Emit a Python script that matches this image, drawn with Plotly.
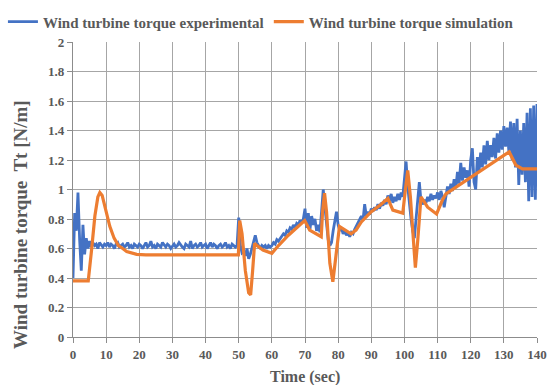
import plotly.graph_objects as go

# Experimental torque sampled every 0.5 s (rows of 10 samples = 5 s each)
exp_torque = [
    0.40, 0.84, 0.72, 0.98, 0.66, 0.45, 0.76, 0.56, 0.67, 0.60,
    0.65, 0.61, 0.64, 0.62, 0.63, 0.60, 0.64, 0.62, 0.61, 0.63,
    0.62, 0.64, 0.61, 0.63, 0.62, 0.60, 0.63, 0.64, 0.61, 0.62,
    0.63, 0.61, 0.62, 0.64, 0.61, 0.62, 0.60, 0.63, 0.62, 0.61,
    0.63, 0.62, 0.60, 0.62, 0.64, 0.61, 0.62, 0.65, 0.61, 0.62,
    0.60, 0.63, 0.62, 0.61, 0.64, 0.62, 0.61, 0.63, 0.62, 0.60,
    0.62, 0.63, 0.61, 0.62, 0.64, 0.62, 0.61, 0.60, 0.63, 0.62,
    0.61, 0.65, 0.60, 0.62, 0.63, 0.61, 0.62, 0.64, 0.61, 0.62,
    0.63, 0.60, 0.62, 0.64, 0.61, 0.63, 0.62, 0.60, 0.62, 0.63,
    0.61, 0.62, 0.64, 0.61, 0.62, 0.60, 0.63, 0.62, 0.61, 0.62,
    0.81, 0.62, 0.57, 0.58, 0.55, 0.60, 0.53, 0.56, 0.60, 0.64,
    0.69, 0.64, 0.62, 0.60, 0.62, 0.61, 0.62, 0.60, 0.62, 0.61,
    0.62, 0.64, 0.63, 0.66, 0.65, 0.67, 0.68, 0.70, 0.69, 0.72,
    0.71, 0.74, 0.73, 0.76, 0.74, 0.77, 0.76, 0.79, 0.77, 0.80,
    0.87, 0.74, 0.84, 0.73, 0.82, 0.76, 0.80, 0.72, 0.76, 0.71,
    0.85, 1.00, 0.88, 0.75, 0.66, 0.62, 0.64, 0.72, 0.80, 0.85,
    0.76, 0.72, 0.74, 0.70, 0.72, 0.69, 0.71, 0.68, 0.71, 0.70,
    0.73, 0.75, 0.78, 0.80, 0.82, 0.79, 0.90, 0.82, 0.85, 0.83,
    0.87, 0.85, 0.88, 0.86, 0.90, 0.87, 0.91, 0.89, 0.93, 0.90,
    0.96, 0.92, 0.97, 0.91, 0.95, 0.92, 0.97, 0.93, 0.98, 0.95,
    1.05, 1.19, 1.02, 0.90, 0.80, 0.72, 0.67, 0.80, 0.95, 1.05,
    0.92, 0.90, 0.93, 0.91, 0.95, 0.92, 0.97, 0.93, 0.96, 0.94,
    0.98, 0.93, 0.99, 0.95, 0.88, 0.97, 1.02, 0.97, 1.04, 0.99,
    1.07, 1.01, 1.12, 1.04, 1.18, 1.06, 1.15, 1.08, 1.13, 1.02,
    1.20, 1.28, 1.05, 1.00, 1.22, 1.12, 1.25, 1.15, 1.30, 1.17,
    1.33, 1.20, 1.30, 1.22, 1.35, 1.21, 1.38, 1.25, 1.40, 1.27,
    1.43, 1.29, 1.42, 1.26, 1.46, 1.20, 1.45, 1.15, 1.48, 1.03,
    1.40, 1.10, 1.45, 1.05, 1.52, 0.92, 1.55, 0.95, 1.57, 0.93,
    1.58,
]
exp_time = [0.5 * i for i in range(len(exp_torque))]

# Simulated torque (breakpoints)
sim_time = [0, 4.6, 5.6, 6.6, 7.5, 8.1, 8.8, 10.0, 11.1, 12.4, 13.7, 15.0, 16.2, 19.2, 22, 49.9,
            50.3, 51.0, 52.0, 53.0, 53.6, 54.2, 54.8, 55.5, 57.3, 60.0, 62.0, 65.0, 68.0, 69.9,
            71.4, 74.9, 75.3, 75.9, 76.5, 77.5, 78.4, 79.3, 80.4, 83.9, 85.4, 87.0, 90.0, 93.0,
            95.0, 96.5, 99.5, 100.3, 101.0, 101.8, 102.6, 103.3, 104.0, 105.0, 107.0, 109.7,
            111.5, 112.5, 131.6, 133.6, 135.6, 140]
sim_torque = [0.38, 0.38, 0.59, 0.82, 0.95, 0.98, 0.96, 0.86, 0.75, 0.67, 0.62, 0.60, 0.58, 0.56, 0.557, 0.557,
              0.79, 0.70, 0.45, 0.30, 0.285, 0.45, 0.635, 0.62, 0.59, 0.567, 0.62, 0.69, 0.75, 0.79,
              0.725, 0.68, 0.85, 0.975, 0.85, 0.50, 0.375, 0.55, 0.75, 0.70, 0.725, 0.78, 0.85, 0.90,
              0.94, 0.86, 0.84, 1.00, 1.13, 0.95, 0.65, 0.47, 0.65, 0.95, 0.88, 0.834,
              0.93, 0.97, 1.255, 1.166, 1.14, 1.14]

x_ticks = list(range(0, 141, 10))
y_ticks = [0, 0.2, 0.4, 0.6, 0.8, 1, 1.2, 1.4, 1.6, 1.8, 2]
y_tick_text = ["0", "0.2", "0.4", "0.6", "0.8", "1", "1.2", "1.4", "1.6", "1.8", "2"]

FONT = "Liberation Serif, Times New Roman, serif"
GREY = "#595959"

fig = go.Figure()
fig.add_trace(go.Scatter(x=exp_time, y=exp_torque, mode="lines",
                         name="<b>Wind turbine torque experimental</b>",
                         line=dict(color="#4472C4", width=2.8), legend="legend"))
fig.add_trace(go.Scatter(x=sim_time, y=sim_torque, mode="lines",
                         name="<b>Wind turbine torque simulation</b>",
                         line=dict(color="#ED7D31", width=3.2), legend="legend2"))

leg_common = dict(orientation="h", yanchor="middle", y=1.068, xanchor="left",
                  font=dict(family=FONT, size=15, color=GREY), bgcolor="rgba(0,0,0,0)",
                  borderwidth=0, itemwidth=30)

fig.update_layout(
    width=551, height=385,
    margin=dict(l=73, r=14, t=42, b=48, autoexpand=False),
    paper_bgcolor="white", plot_bgcolor="white",
    font=dict(family=FONT, color=GREY, size=13),
    showlegend=True,
    legend=dict(x=-0.151, **leg_common),
    legend2=dict(x=0.422, **leg_common),
    annotations=[
        dict(text="<b>Wind turbine torque  Tt [N/m]</b>", xref="paper", yref="paper",
             x=-0.112, y=0.38, xanchor="center", yanchor="middle", textangle=-90,
             showarrow=False, font=dict(family=FONT, size=19, color=GREY)),
        dict(text="<b>Time (sec)</b>", xref="paper", yref="paper",
             x=0.5, y=-0.137, xanchor="center", yanchor="middle",
             showarrow=False, font=dict(family=FONT, size=16, color=GREY)),
    ],
)
axis_common = dict(showgrid=True, gridcolor="#a6a6a6", gridwidth=1.3,
                   showline=True, linecolor="#8c8c8c", linewidth=1.3,
                   ticks="outside", ticklen=5, tickcolor="#8c8c8c", tickwidth=1.3,
                   zeroline=False, tickfont=dict(family=FONT, size=13, color=GREY))
fig.update_xaxes(range=[0, 140], tickvals=x_ticks, ticktext=[f"<b>{v}</b>" for v in x_ticks],
                 **axis_common)
fig.update_yaxes(range=[0, 2], tickvals=y_ticks, ticktext=[f"<b>{t}</b>" for t in y_tick_text],
                 **axis_common)

fig.write_html("out.html")
